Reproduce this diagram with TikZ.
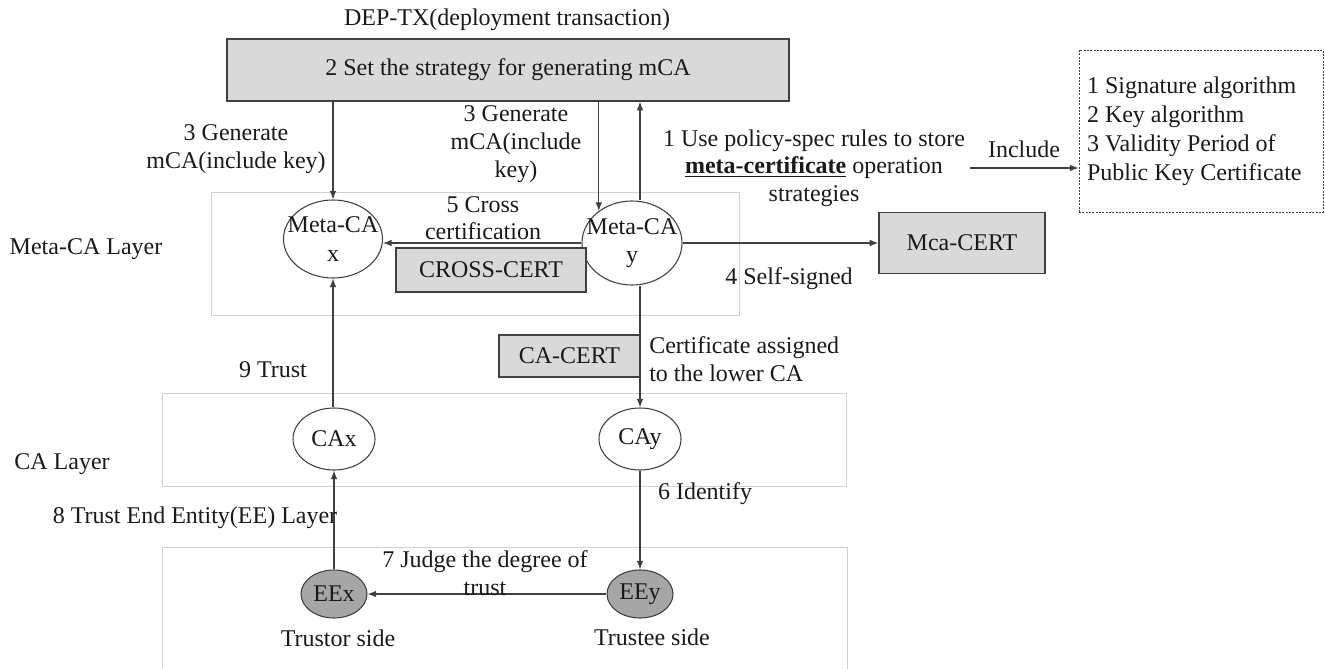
\documentclass[tikz,border=0pt]{standalone}
\usepackage{fontspec}
\setmainfont{Liberation Serif}
\usetikzlibrary{arrows.meta,shapes.geometric}

\definecolor{boxfill}{HTML}{D9D9D9}
\definecolor{eefill}{HTML}{A6A6A6}
\definecolor{edge}{HTML}{404040}
\definecolor{layeredge}{HTML}{D0D0D0}
\definecolor{ink}{HTML}{1A1A1A}

\tikzset{
  txt/.style={font=\fontsize{18}{20.5}\selectfont, text=ink, align=center, inner sep=0pt},
  graybox/.style={draw=edge, line width=1pt, fill=boxfill, inner sep=0pt,
    font=\fontsize{18}{20.5}\selectfont, text=ink},
  entity/.style={ellipse, draw=edge, line width=0.8pt, fill=white, inner sep=0pt},
  eenode/.style={entity, fill=eefill},
  inlabel/.style={font=\fontsize{18}{21.5}\selectfont, text=ink, align=center, inner sep=0pt},
  layer/.style={draw=layeredge, line width=0.6pt},
  arr/.style={draw=edge, line width=0.8pt, -{Latex[length=6.5pt,width=5pt]}}
}

\begin{document}
\begin{tikzpicture}[x=0.75pt, y=-0.75pt]
\useasboundingbox (0,0) rectangle (1325,668);

% layer frames
\draw[layer] (211,192) rectangle (739,315);
\draw[layer] (162,393) rectangle (846,486);
\draw[layer] (162,670) -- (162,547) -- (847,547) -- (847,670);

% layer names
\node[txt] (lmeta) at (86,249) {Meta-CA Layer};
\node[txt] (lca) at (62,464) {CA Layer};

% deployment transaction
\node[txt] (deptx) at (507,20) {DEP-TX(deployment transaction)};
\node[graybox, minimum width=421.5pt, minimum height=46.5pt] (top) at (508,70)
  {2 Set the strategy for generating mCA};

% meta-CA layer
\node[entity, minimum width=74.25pt, minimum height=58.5pt,
  label={[inlabel]center:Meta-CA\\x}] (mcax) at (333,239) {};
\node[entity, minimum width=75pt, minimum height=63pt,
  label={[inlabel]center:Meta-CA\\y}] (mcay) at (632,243) {};
\node[graybox, minimum width=142.5pt, minimum height=33pt] (cross) at (491,270) {CROSS-CERT};
\node[graybox, minimum width=124.5pt, minimum height=45.75pt] (mca) at (962,243) {Mca-CERT};

% CA layer
\node[entity, minimum width=61.5pt, minimum height=46.5pt,
  label={[inlabel]center:CAx}] (cax) at (334,439) {};
\node[entity, minimum width=61.5pt, minimum height=46.5pt,
  label={[inlabel]center:CAy}] (cay) at (640,439) {};
\node[graybox, minimum width=105.75pt, minimum height=31.5pt] (cacert) at (569.5,356) {CA-CERT};

% end entity layer
\node[eenode, minimum width=49.5pt, minimum height=36pt,
  label={[inlabel]center:EEx}] (eex) at (334,594) {};
\node[eenode, minimum width=49.5pt, minimum height=36pt,
  label={[inlabel]center:EEy}] (eey) at (640,594) {};

% policy box
\node[draw=edge, line width=0.7pt, dash pattern=on 1.5pt off 1pt,
  minimum width=183pt, minimum height=121.5pt, text width=171pt,
  inner xsep=6pt, inner ysep=0pt, align=flush left,
  font=\fontsize{18}{21.75}\selectfont, text=ink] (policy) at (1201,131)
  {1 Signature algorithm\\2 Key algorithm\\3 Validity Period of\\Public Key Certificate};
\coordinate (incstart) at (970,168);

% connectors
\draw[arr] (top.south -| mcax) -- (mcax.north);
\draw[arr] (top.south -| mcay.136) -- (mcay.136);
\draw[arr] (mcay.north -| cay) -- (top.south -| cay);
\draw[arr] (mcay.west) -- (mcay.west -| mcax.east);
\draw[arr] (mcay.east) -- (mca.west);
\draw[arr] (mcay.south -| cay) -- (cay.north);
\draw[arr] (cax.north -| mcax) -- (mcax.south);
\draw[arr] (cay.south) -- (eey.north);
\draw[arr] (eex.north) -- (cax.south);
\draw[arr] (eey.west) -- (eex.east);
\draw[arr] (incstart) -- (policy.west |- incstart);

% connector labels
\node[txt] (g1) at (236,149) {3 Generate\\mCA(include key)};
\node[txt, font=\fontsize{18}{21}\selectfont] (g2) at (516,144) {3 Generate\\mCA(include\\key)};
\node[txt] (rule) at (814,168) {1 Use policy-spec rules to store\\
  \underline{\textbf{meta-certificate}} operation\\strategies};
\node[txt] (inc) at (1024,149) {Include};
\node[txt] (cc) at (483,218) {5 Cross\\certification};
\node[txt] (self) at (789,279) {4 Self-signed};
\node[txt, align=left, anchor=west] (assign) at (649,359) {Certificate assigned\\to the lower CA};
\node[txt] (trust9) at (273,370) {9 Trust};
\node[txt] (ident) at (705,494) {6 Identify};
\node[txt] (trust8) at (195,518) {8 Trust End Entity(EE) Layer};
\node[txt] (judge) at (485,573) {7 Judge the degree of\\trust};
\node[txt] (tor) at (338,638) {Trustor side};
\node[txt] (tee) at (652,637) {Trustee side};
\end{tikzpicture}
\end{document}
